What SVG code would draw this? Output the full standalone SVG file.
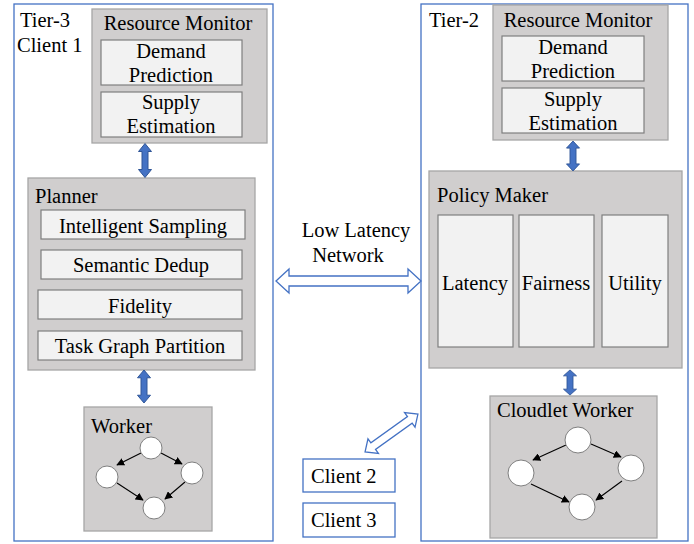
<svg xmlns="http://www.w3.org/2000/svg" width="694" height="544" viewBox="0 0 694 544">
<style>
svg text.t{font-family:'Liberation Serif','Times New Roman',serif;font-size:20.5px;fill:#000}
.c{text-anchor:middle}
.outer{fill:#fff;stroke:#4472c4;stroke-width:1.3}
.grp{fill:#d0cece;stroke:#a6a6a6;stroke-width:1.3}
.in{fill:#f2f2f2;stroke:#7f7f7f;stroke-width:1.2}
.nd{fill:#fff;stroke:#7f7f7f;stroke-width:1}
.edge{stroke:#000;stroke-width:1.1;fill:none;marker-end:url(#ah)}
.blue{fill:#4472c4;stroke:#2f5597;stroke-width:1}
.hollow{fill:#fff;stroke:#4472c4;stroke-width:1.3;stroke-linejoin:miter}
.client{fill:#fff;stroke:#4472c4;stroke-width:1.3}
</style>
<defs>
<marker id="ah" viewBox="0 0 10 10" refX="9" refY="5" markerWidth="8" markerHeight="8" markerUnits="userSpaceOnUse" orient="auto">
<path d="M0,0 L10,5 L0,10 z" fill="#000"/>
</marker>
<path id="varrow" d="M0,-17 L6.5,-9 L3,-9 L3,9 L6.5,9 L0,17 L-6.5,9 L-3,9 L-3,-9 L-6.5,-9 z"/>
</defs>

<g id="tier3">
<rect class="outer" x="14" y="4" width="259" height="537"/>
<text class="t" x="20" y="27">Tier-3</text>
<text class="t" x="17" y="52">Client 1</text>
</g>

<g id="tier2">
<rect class="outer" x="421" y="4" width="267" height="537"/>
<text class="t" x="429" y="27">Tier-2</text>
</g>

<g id="rm1">
<rect class="grp" x="92" y="9" width="175" height="134"/>
<text class="t c" x="178" y="30">Resource Monitor</text>
<rect class="in" x="101" y="40" width="141" height="45"/>
<text class="t c" x="171" y="58">Demand</text>
<text class="t c" x="171" y="82">Prediction</text>
<rect class="in" x="101" y="92" width="141" height="45"/>
<text class="t c" x="171" y="109">Supply</text>
<text class="t c" x="171" y="133">Estimation</text>
</g>

<g id="planner">
<rect class="grp" x="28" y="178" width="227" height="192"/>
<text class="t" x="35" y="203">Planner</text>
<rect class="in" x="41" y="210" width="204" height="29"/>
<text class="t c" x="143" y="233">Intelligent Sampling</text>
<rect class="in" x="41" y="250" width="201" height="29"/>
<text class="t c" x="141" y="272">Semantic Dedup</text>
<rect class="in" x="38" y="290" width="204" height="29"/>
<text class="t c" x="140" y="313">Fidelity</text>
<rect class="in" x="38" y="331" width="204" height="29"/>
<text class="t c" x="140" y="353">Task Graph Partition</text>
</g>

<g id="worker">
<rect class="grp" x="84" y="407" width="128" height="124"/>
<text class="t" x="91" y="433">Worker</text>
<line class="edge" x1="141" y1="453" x2="117" y2="465"/>
<line class="edge" x1="161" y1="453" x2="182" y2="464"/>
<line class="edge" x1="117" y1="483" x2="143" y2="500"/>
<line class="edge" x1="185" y1="482" x2="165" y2="499"/>
<circle class="nd" cx="151" cy="448" r="11"/>
<circle class="nd" cx="107" cy="477" r="11"/>
<circle class="nd" cx="192" cy="473" r="11"/>
<circle class="nd" cx="154" cy="508" r="11"/>
</g>

<g id="rm2">
<rect class="grp" x="493" y="5" width="175" height="135"/>
<text class="t c" x="578" y="27">Resource Monitor</text>
<rect class="in" x="502" y="36" width="142" height="45"/>
<text class="t c" x="573" y="54">Demand</text>
<text class="t c" x="573" y="78">Prediction</text>
<rect class="in" x="502" y="88" width="142" height="45"/>
<text class="t c" x="573" y="106">Supply</text>
<text class="t c" x="573" y="130">Estimation</text>
</g>

<g id="policy">
<rect class="grp" x="429" y="171" width="253" height="197"/>
<text class="t" x="437" y="202">Policy Maker</text>
<rect class="in" x="438" y="215" width="75" height="132"/>
<text class="t c" x="475" y="290">Latency</text>
<rect class="in" x="519" y="215" width="75" height="132"/>
<text class="t c" x="556" y="290">Fairness</text>
<rect class="in" x="602" y="215" width="66" height="132"/>
<text class="t c" x="635" y="290">Utility</text>
</g>

<g id="cloudlet">
<rect class="grp" x="490" y="396" width="167" height="142"/>
<text class="t" x="497" y="417">Cloudlet Worker</text>
<line class="edge" x1="566" y1="445" x2="533" y2="460"/>
<line class="edge" x1="591" y1="444" x2="621" y2="457"/>
<line class="edge" x1="531" y1="484" x2="569" y2="502"/>
<line class="edge" x1="622" y1="481" x2="596" y2="500"/>
<circle class="nd" cx="578" cy="440" r="13"/>
<circle class="nd" cx="521" cy="473" r="13"/>
<circle class="nd" cx="631" cy="468" r="13"/>
<circle class="nd" cx="582" cy="507" r="13"/>
</g>

<g id="client2">
<rect class="client" x="303" y="459" width="92" height="33"/>
<text class="t" x="311" y="483">Client 2</text>
</g>
<g id="client3">
<rect class="client" x="303" y="503" width="92" height="34"/>
<text class="t" x="311" y="527">Client 3</text>
</g>

<g id="network-label">
<text class="t c" x="356" y="237">Low Latency</text>
<text class="t c" x="348" y="262">Network</text>
</g>

<g id="connectors">
<use href="#varrow" class="blue" transform="translate(145,160.5)"/>
<use href="#varrow" class="blue" transform="translate(144,386.5) scale(1,0.97)"/>
<use href="#varrow" class="blue" transform="translate(573,156) scale(1,0.88)"/>
<use href="#varrow" class="blue" transform="translate(570,382.5) scale(1,0.74)"/>
<path class="hollow" d="M276,281 L289,269 L289,276 L408,276 L408,269 L421,281 L408,293 L408,286 L289,286 L289,293 z"/>
<path class="hollow" transform="translate(391.5,433) rotate(-35.6)" d="M-32.5,0 L-22.5,-9 L-22.5,-4 L22.5,-4 L22.5,-9 L32.5,0 L22.5,9 L22.5,4 L-22.5,4 L-22.5,9 z"/>
</g>
</svg>
